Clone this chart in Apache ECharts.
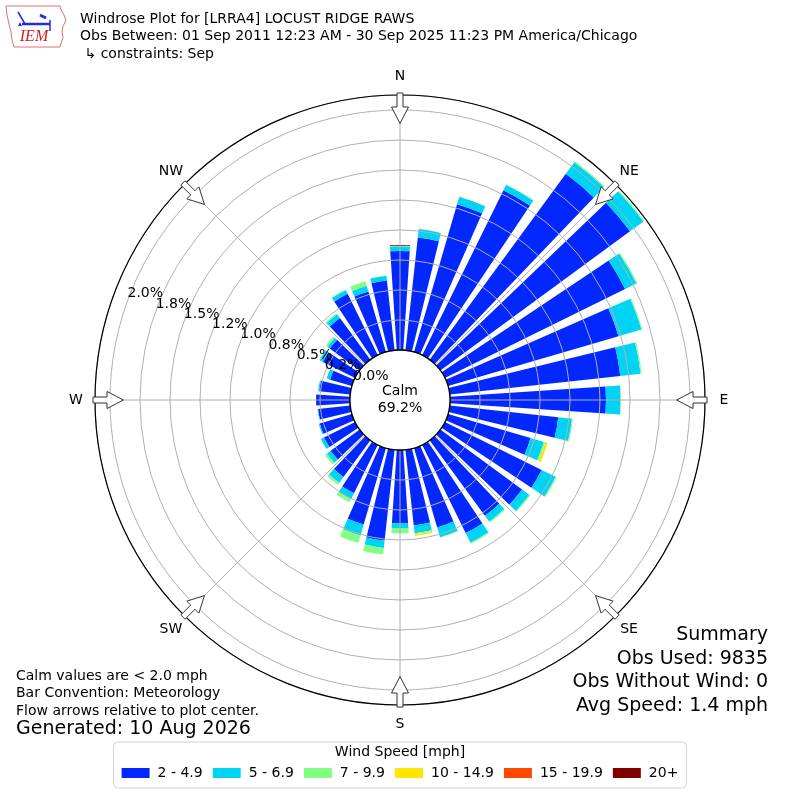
<!DOCTYPE html>
<html><head><meta charset="utf-8">
<script src="https://cdn.jsdelivr.net/npm/echarts@6/dist/echarts.min.js"></script>
<style>html,body{margin:0;padding:0;background:#fff}#c{width:800px;height:800px}</style>
</head><body><div id="c"></div>
<script>
// ---- data ----
const directions = ['0','10','20','30','40','50','60','70','80','90','100','110','120','130','140','150','160','170',
  '180','190','200','210','220','230','240','250','260','270','280','290','300','310','320','330','340','350'];
const speedBins = ['2 - 4.9','5 - 6.9','7 - 9.9','10 - 14.9','15 - 19.9','20+'];
const binColors = ['#0328ff','#00d4f5','#80ff80','#ffe600','#ff4800','#800000'];
// percent of observations per direction
const bin2to5 = [0.825,0.946,1.283,1.533,1.92,1.96,1.675,1.48,1.43,1.30,0.91,0.717,0.90,0.845,0.78,0.82,0.69,0.635,
  0.61,0.762,0.665,0.45,0.38,0.30,0.29,0.28,0.27,0.283,0.26,0.19,0.30,0.31,0.43,0.57,0.525,0.585];
const bin5to7 = [0.040,0.070,0.065,0.050,0.12,0.14,0.105,0.20,0.17,0.12,0.115,0.115,0.13,0.075,0.06,0.09,0.085,0.065,
  0.045,0.062,0.095,0.055,0.06,0.04,0.03,0.01,0.005,0,0.01,0.03,0.03,0.025,0.04,0.035,0.05,0.04];
const bin7to10 = [0.003,0,0,0.003,0.01,0.008,0.01,0.008,0.01,0.005,0.008,0.012,0.01,0.01,0.01,0.01,0.003,0.008,
  0.04,0.055,0.065,0.028,0.02,0.02,0,0,0,0,0,0,0.005,0.015,0.01,0.005,0.04,0.003];
const bin10to15 = [0.002,0,0,0,0,0,0,0,0,0,0,0.02,0,0,0,0,0,0.015,
  0,0,0,0,0,0,0,0,0,0,0,0,0,0,0,0,0,0];
const bin15to20 = [0,0,0,0,0,0,0,0,0,0,0,0,0,0,0,0,0,0,0,0,0,0,0,0,0,0,0,0,0,0,0,0,0,0,0,0];
const bin20plus = [0.005,0,0,0,0,0,0,0,0,0,0,0,0,0,0,0,0,0,0,0,0,0,0,0,0,0,0,0,0,0,0,0,0,0,0,0];
const binData = [bin2to5, bin5to7, bin7to10, bin10to15, bin15to20, bin20plus];

const radialTicks = [0,0.25,0.5,0.75,1.0,1.25,1.5,1.75,2.0];
const radialTickLabels = ['0.0%','0.2%','0.5%','0.8%','1.0%','1.2%','1.5%','1.8%','2.0%'];
const radialMax = 2.125;
const compassAngles = [0,45,90,135,180,225,270,315];
const compassLabels = ['N','NE','E','SE','S','SW','W','NW'];
const calmText = ['Calm','69.2%'];
const titleLines = ['Windrose Plot for [LRRA4] LOCUST RIDGE RAWS',
  'Obs Between: 01 Sep 2011 12:23 AM - 30 Sep 2025 11:23 PM America/Chicago',
  ' \u21b3 constraints: Sep'];
const noteLines = ['Calm values are < 2.0 mph','Bar Convention: Meteorology','Flow arrows relative to plot center.'];
const generatedLine = 'Generated: 10 Aug 2026';
const summaryLines = ['Summary','Obs Used: 9835','Obs Without Wind: 0','Avg Speed: 1.4 mph'];
const legendTitle = 'Wind Speed [mph]';

// ---- chart ----
const FONT = '"DejaVu Sans", sans-serif';
const chart = echarts.init(document.getElementById('c'), null, {renderer:'canvas'});
const cx = 400, cy = 400, rIn = 50, rOut = 305;

const series = speedBins.map((name, k) => ({
  type:'bar', coordinateSystem:'polar', polarIndex:0, stack:'ws', name,
  data: binData[k], itemStyle:{color: binColors[k]}, barCategoryGap:'25%', silent:true, z:2,
  emphasis:{disabled:true}
}));

const graphics = [];
// title
titleLines.forEach((t,i) => graphics.push({type:'text', x:80, y:19+i*17.5, z:100,
  style:{text:t, fill:'#000', font:'14px '+FONT, align:'left', verticalAlign:'middle'}}));
// logo
graphics.push({type:'polygon', z:100, shape:{points:[[6,6],[60,6],[61,10],[64,15],[66,21],[63,26],[62,32],[63,38],[61,43],[60,47],[14,47],[12,40],[11,32],[9,24],[7,15]]},
  style:{fill:'none', stroke:'#e07070', lineWidth:1}});
graphics.push({type:'polyline', z:100, shape:{points:[[22,24],[50,24]]}, style:{stroke:'#2030d0', lineWidth:2.5}});
graphics.push({type:'polyline', z:100, shape:{points:[[18,12],[25,24]]}, style:{stroke:'#2030d0', lineWidth:1.5}});
graphics.push({type:'polyline', z:100, shape:{points:[[40,15],[46,18]]}, style:{stroke:'#2030d0', lineWidth:3}});
graphics.push({type:'polyline', z:100, shape:{points:[[50,20],[50,31]]}, style:{stroke:'#2030d0', lineWidth:1.5}});
graphics.push({type:'polygon', z:100, shape:{points:[[18,26],[20,22],[22,26]]}, style:{fill:'#2030d0'}});
graphics.push({type:'text', x:34, y:37, z:100, style:{text:'IEM', fill:'#d02020', font:'italic 16px "Liberation Serif", serif', align:'center', verticalAlign:'middle'}});
// compass labels and arrows
compassAngles.forEach((a,i) => {
  const t = a*Math.PI/180, ux = Math.sin(t), uy = -Math.cos(t), px = Math.cos(t), py = Math.sin(t);
  const pt = (r,w) => [cx+ux*r+px*w, cy+uy*r+py*w];
  graphics.push({type:'polygon', z:60, shape:{points:[pt(307,-3),pt(293,-3),pt(293,-8.5),pt(276.5,0),pt(293,8.5),pt(293,3),pt(307,3)]},
    style:{fill:'#fff', stroke:'#333', lineWidth:1}});
  graphics.push({type:'text', x:cx+ux*324, y:cy+uy*324, z:100,
    style:{text:compassLabels[i], fill:'#000', font:'14px '+FONT, align:'center', verticalAlign:'middle'}});
});
// calm circle
graphics.push({type:'circle', z:55, shape:{cx, cy, r:rIn}, style:{fill:'#fff', stroke:'#000', lineWidth:1.3}});
graphics.push({type:'text', x:cx, y:391, z:100, style:{text:calmText[0], fill:'#000', font:'14px '+FONT, align:'center', verticalAlign:'middle'}});
graphics.push({type:'text', x:cx, y:408, z:100, style:{text:calmText[1], fill:'#000', font:'14px '+FONT, align:'center', verticalAlign:'middle'}});
// notes
noteLines.forEach((t,i) => graphics.push({type:'text', x:16, y:676+i*17.5, z:100,
  style:{text:t, fill:'#000', font:'14px '+FONT, align:'left', verticalAlign:'middle'}}));
graphics.push({type:'text', x:16, y:729, z:100, style:{text:generatedLine, fill:'#000', font:'19px '+FONT, align:'left', verticalAlign:'middle'}});
summaryLines.forEach((t,i) => graphics.push({type:'text', x:768, y:635+i*23.7, z:100,
  style:{text:t, fill:'#000', font:'19px '+FONT, align:'right', verticalAlign:'middle'}}));
graphics.push({type:'text', x:400, y:752, z:100, style:{text:legendTitle, fill:'#000', font:'14px '+FONT, align:'center', verticalAlign:'middle'}});

const labelFor = (v) => { const i = radialTicks.findIndex(t => Math.abs(t-v) < 1e-6); return i >= 0 ? radialTickLabels[i] : ''; };
const labelStyle = {show:true, hideOverlap:false, margin:0, align:'left', verticalAlign:'bottom',
  color:'#000', fontSize:14, fontFamily:FONT};
const labelRadius = (polarIndex, formatter, showMin) => ({polarIndex, type:'value', min:0, max:radialMax, interval:0.25, z:90,
  axisLine:{show:false}, axisTick:{show:false}, splitLine:{show:false},
  axisLabel:Object.assign({}, labelStyle, {showMinLabel:showMin, showMaxLabel:false, formatter})});
const hiddenAngle = (polarIndex) => ({polarIndex, type:'value', min:0, max:360, startAngle:160, clockwise:true,
  axisLine:{show:false}, axisTick:{show:false}, axisLabel:{show:false}, splitLine:{show:false}});

const option = {
  backgroundColor:'#fff',
  animation:false,
  polar:[
    {center:[cx,cy], radius:[rIn,rOut]},
    {center:[cx,cy], radius:[rIn,rOut]},
    {center:[cx,cy], radius:[rIn,rOut]},
    {center:[cx,cy], radius:[rIn,rOut]}
  ],
  angleAxis:[
    {polarIndex:0, type:'category', data:directions, startAngle:95, clockwise:true, boundaryGap:true,
      axisLine:{show:false}, axisTick:{show:false}, axisLabel:{show:false}, splitLine:{show:false}},
    {polarIndex:1, type:'value', min:0, max:360, interval:45, startAngle:90, clockwise:true, z:4,
      axisLine:{lineStyle:{color:'#000', width:1.2}}, axisTick:{show:false}, axisLabel:{show:false},
      splitLine:{lineStyle:{color:'#b0b0b0', width:1}}},
    hiddenAngle(2),
    hiddenAngle(3)
  ],
  radiusAxis:[
    {polarIndex:0, type:'value', min:0, max:radialMax, axisLine:{show:false}, axisTick:{show:false}, axisLabel:{show:false}, splitLine:{show:false}},
    {polarIndex:1, type:'value', min:0, max:radialMax, interval:0.25, z:4,
      axisLine:{show:false}, axisTick:{show:false}, axisLabel:{show:false},
      splitLine:{lineStyle:{color:'#b0b0b0', width:1}}},
    // labels from 0.25 upward
    labelRadius(2, (v) => (Math.abs(v) < 1e-6 ? '' : labelFor(v)), false),
    // the 0.0% label alone
    labelRadius(3, (v) => (Math.abs(v) < 1e-6 ? labelFor(v) : ''), true)
  ],
  legend:{data:speedBins, top:742, left:'center', orient:'horizontal', icon:'rect', itemWidth:28, itemHeight:10, itemGap:10,
    borderColor:'#d0d0d0', borderWidth:1, borderRadius:4, padding:[24,8,8,8], selectedMode:false,
    textStyle:{fontSize:14, color:'#000', fontFamily:FONT, padding:[0,0,0,3]}},
  graphic:graphics,
  series
};
chart.setOption(option);
</script></body></html>
